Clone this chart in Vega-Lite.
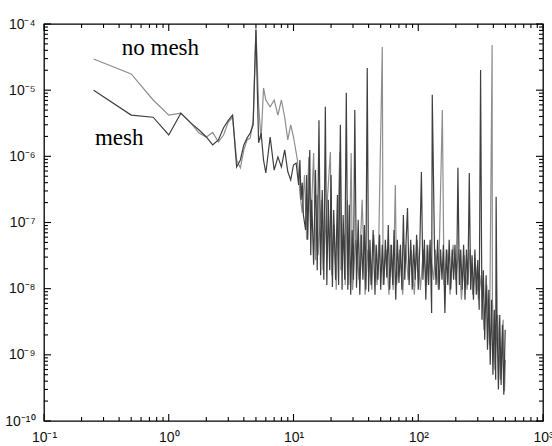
{
  "$schema": "https://vega.github.io/schema/vega-lite/v6.json",
  "width": 499,
  "height": 397,
  "autosize": {"type": "none"},
  "padding": {"left": 44, "top": 24, "right": 9, "bottom": 25},
  "background": "white",
  "config": {
    "view": {"stroke": "black", "strokeWidth": 1.3},
    "axis": {"domain": false, "grid": false, "ticks": false, "labelFont": "Liberation Sans", "labelFontSize": 14, "labelColor": "#111", "title": null, "labelOverlap": false, "labelFlush": false, "labelBound": false}
  },
  "datasets": {
    "xt": [{"f":0.1},{"f":0.2},{"f":0.3},{"f":0.4},{"f":0.5},{"f":0.6},{"f":0.7},{"f":0.8},{"f":0.9},{"f":1},{"f":2},{"f":3},{"f":4},{"f":5},{"f":6},{"f":7},{"f":8},{"f":9},{"f":10},{"f":20},{"f":30},{"f":40},{"f":50},{"f":60},{"f":70},{"f":80},{"f":90},{"f":100},{"f":200},{"f":300},{"f":400},{"f":500},{"f":600},{"f":700},{"f":800},{"f":900},{"f":1000}],
    "yt": [{"v":1e-10},{"v":2e-10},{"v":3e-10},{"v":4e-10},{"v":5e-10},{"v":6e-10},{"v":7e-10},{"v":8e-10},{"v":9e-10},{"v":1e-9},{"v":2e-9},{"v":3e-9},{"v":4e-9},{"v":5e-9},{"v":6e-9},{"v":7e-9},{"v":8e-9},{"v":9e-9},{"v":1e-8},{"v":2e-8},{"v":3e-8},{"v":4e-8},{"v":5e-8},{"v":6e-8},{"v":7e-8},{"v":8e-8},{"v":9e-8},{"v":1e-7},{"v":2e-7},{"v":3e-7},{"v":4e-7},{"v":5e-7},{"v":6e-7},{"v":7e-7},{"v":8e-7},{"v":9e-7},{"v":1e-6},{"v":2e-6},{"v":3e-6},{"v":4e-6},{"v":5e-6},{"v":6e-6},{"v":7e-6},{"v":8e-6},{"v":9e-6},{"v":1e-5},{"v":2e-5},{"v":3e-5},{"v":4e-5},{"v":5e-5},{"v":6e-5},{"v":7e-5},{"v":8e-5},{"v":9e-5},{"v":1e-4}]
  },
  "resolve": {"axis": {"x": "independent", "y": "independent"}},
  "layer": [
    {
      "data": {"values": [
        {"s":"no mesh","f":0.25,"v":2.96e-5},{"s":"no mesh","f":0.5,"v":1.76e-5},{"s":"no mesh","f":0.75,"v":7.1e-6},{"s":"no mesh","f":1.0,"v":4.2e-6},{"s":"no mesh","f":1.25,"v":4.5e-6},{"s":"no mesh","f":1.5,"v":3.2e-6},{"s":"no mesh","f":1.75,"v":2.25e-6},{"s":"no mesh","f":2.0,"v":1.96e-6},{"s":"no mesh","f":2.25,"v":2.3e-6},{"s":"no mesh","f":2.5,"v":1.65e-6},{"s":"no mesh","f":2.75,"v":2.1e-6},{"s":"no mesh","f":3.0,"v":3.3e-6},{"s":"no mesh","f":3.25,"v":3.9e-6},{"s":"no mesh","f":3.5,"v":8.8e-7},{"s":"no mesh","f":3.75,"v":6.7e-7},{"s":"no mesh","f":4.0,"v":1.25e-6},{"s":"no mesh","f":4.25,"v":1.77e-6},{"s":"no mesh","f":4.5,"v":1.9e-6},{"s":"no mesh","f":4.75,"v":3.5e-6},{"s":"no mesh","f":5.0,"v":8.7e-5},{"s":"no mesh","f":5.25,"v":6.0e-6},{"s":"no mesh","f":5.5,"v":1.77e-6},{"s":"no mesh","f":5.75,"v":1.08e-5},{"s":"no mesh","f":6.0,"v":7.1e-6},{"s":"no mesh","f":6.5,"v":5.6e-6},{"s":"no mesh","f":7.0,"v":7.1e-6},{"s":"no mesh","f":7.5,"v":4.2e-6},{"s":"no mesh","f":8.0,"v":7.1e-6},{"s":"no mesh","f":8.5,"v":3.9e-6},{"s":"no mesh","f":9.0,"v":1.77e-6},{"s":"no mesh","f":9.5,"v":3.0e-6},{"s":"no mesh","f":10.0,"v":1.96e-6},
        {"s":"no mesh","f":10.75,"v":8.8e-7},{"s":"no mesh","f":11.25,"v":2.8e-7},{"s":"no mesh","f":11.75,"v":1.4e-7},{"s":"no mesh","f":12.25,"v":5.2e-7},{"s":"no mesh","f":12.75,"v":5.5e-8},{"s":"no mesh","f":13.25,"v":9.8e-7},{"s":"no mesh","f":13.75,"v":7.7e-8},{"s":"no mesh","f":14.5,"v":1.12e-6},{"s":"no mesh","f":15.0,"v":2.7e-8},{"s":"no mesh","f":15.5,"v":2.6e-7},{"s":"no mesh","f":15.75,"v":3.2e-8},{"s":"no mesh","f":16.75,"v":2.2e-7},{"s":"no mesh","f":17.25,"v":1.9e-8},{"s":"no mesh","f":18.25,"v":1.1e-7},{"s":"no mesh","f":19.75,"v":1.16e-6},{"s":"no mesh","f":20.25,"v":1.6e-8},{"s":"no mesh","f":21.25,"v":9.2e-8},{"s":"no mesh","f":22.0,"v":9.6e-9},{"s":"no mesh","f":23.5,"v":1.16e-6},{"s":"no mesh","f":24.0,"v":1.9e-8},{"s":"no mesh","f":25.5,"v":6.5e-8},{"s":"no mesh","f":26.0,"v":1.14e-8},{"s":"no mesh","f":27.0,"v":2.2e-7},{"s":"no mesh","f":27.75,"v":1.14e-8},{"s":"no mesh","f":29.0,"v":1.12e-6},{"s":"no mesh","f":29.75,"v":9.6e-9},{"s":"no mesh","f":31.5,"v":5.5e-8},{"s":"no mesh","f":33.5,"v":1.36e-8},{"s":"no mesh","f":35.5,"v":2.2e-7},{"s":"no mesh","f":37.5,"v":8.1e-9},{"s":"no mesh","f":39.5,"v":3.9e-8},{"s":"no mesh","f":42.5,"v":9.6e-9},{"s":"no mesh","f":44.0,"v":6.5e-8},{"s":"no mesh","f":46.75,"v":1.14e-8},{"s":"no mesh","f":48.25,"v":5.5e-8},{"s":"no mesh","f":51.5,"v":4.5e-5},{"s":"no mesh","f":52.25,"v":1.14e-8},{"s":"no mesh","f":55.25,"v":3.9e-8},{"s":"no mesh","f":58.25,"v":8.1e-9},{"s":"no mesh","f":60.0,"v":4.6e-8},{"s":"no mesh","f":63.0,"v":9.6e-9},{"s":"no mesh","f":65.5,"v":3.7e-7},{"s":"no mesh","f":67.0,"v":1.14e-8},{"s":"no mesh","f":71.0,"v":3.9e-8},{"s":"no mesh","f":75.0,"v":8.1e-9},{"s":"no mesh","f":79.0,"v":4.6e-8},{"s":"no mesh","f":83.0,"v":1.36e-8},{"s":"no mesh","f":88.0,"v":3.9e-8},{"s":"no mesh","f":93.0,"v":8.1e-9},{"s":"no mesh","f":98.0,"v":5.5e-8},{"s":"no mesh","f":104.0,"v":9.6e-9},{"s":"no mesh","f":110.0,"v":3.9e-8},{"s":"no mesh","f":116.5,"v":1.14e-8},{"s":"no mesh","f":122.5,"v":4.6e-8},{"s":"no mesh","f":133.0,"v":1.36e-8},{"s":"no mesh","f":137.0,"v":3.9e-8},{"s":"no mesh","f":145.0,"v":9.6e-9},{"s":"no mesh","f":156.0,"v":5.0e-6},{"s":"no mesh","f":161.0,"v":1.14e-8},{"s":"no mesh","f":170.0,"v":3.9e-8},{"s":"no mesh","f":180.0,"v":8.1e-9},{"s":"no mesh","f":190.0,"v":4.6e-8},{"s":"no mesh","f":200.0,"v":1.36e-8},{"s":"no mesh","f":211.0,"v":3.9e-8},{"s":"no mesh","f":222.0,"v":6.8e-9},{"s":"no mesh","f":234.0,"v":3.2e-8},{"s":"no mesh","f":246.5,"v":9.6e-9},{"s":"no mesh","f":260.0,"v":3.9e-8},{"s":"no mesh","f":273.5,"v":8.1e-9},{"s":"no mesh","f":288.0,"v":2.3e-8},{"s":"no mesh","f":304.0,"v":6.8e-9},{"s":"no mesh","f":320.0,"v":1.6e-8},{"s":"no mesh","f":336.0,"v":2.4e-9},{"s":"no mesh","f":354.0,"v":1.14e-8},{"s":"no mesh","f":372.5,"v":1.42e-9},{"s":"no mesh","f":391.0,"v":4.8e-5},{"s":"no mesh","f":393.0,"v":6.8e-9},{"s":"no mesh","f":412.0,"v":5.9e-10},{"s":"no mesh","f":433.0,"v":4.0e-9},{"s":"no mesh","f":455.0,"v":4.2e-10},{"s":"no mesh","f":479.0,"v":3.4e-9},{"s":"no mesh","f":491.0,"v":2.8e-10},{"s":"no mesh","f":500.0,"v":8.4e-10},
        {"s":"mesh","f":0.25,"v":1.0e-5},{"s":"mesh","f":0.5,"v":4.2e-6},{"s":"mesh","f":0.75,"v":3.9e-6},{"s":"mesh","f":1.0,"v":2.1e-6},{"s":"mesh","f":1.25,"v":4.5e-6},{"s":"mesh","f":1.5,"v":3.2e-6},{"s":"mesh","f":1.75,"v":2.5e-6},{"s":"mesh","f":2.0,"v":1.96e-6},{"s":"mesh","f":2.25,"v":1.49e-6},{"s":"mesh","f":2.5,"v":1.77e-6},{"s":"mesh","f":2.75,"v":2.7e-6},{"s":"mesh","f":3.0,"v":3.5e-6},{"s":"mesh","f":3.25,"v":4.2e-6},{"s":"mesh","f":3.5,"v":6.9e-7},{"s":"mesh","f":3.75,"v":8.8e-7},{"s":"mesh","f":4.0,"v":1.49e-6},{"s":"mesh","f":4.25,"v":1.9e-6},{"s":"mesh","f":4.5,"v":2.25e-6},{"s":"mesh","f":4.75,"v":3.0e-6},{"s":"mesh","f":5.0,"v":8.1e-5},{"s":"mesh","f":5.25,"v":1.6e-6},{"s":"mesh","f":5.5,"v":2.25e-6},{"s":"mesh","f":5.75,"v":8.8e-7},{"s":"mesh","f":6.0,"v":5.6e-7},{"s":"mesh","f":6.5,"v":1.96e-6},{"s":"mesh","f":7.0,"v":6.2e-7},{"s":"mesh","f":7.5,"v":9.8e-7},{"s":"mesh","f":8.0,"v":6.9e-7},{"s":"mesh","f":8.5,"v":1.25e-6},{"s":"mesh","f":9.0,"v":5.9e-7},{"s":"mesh","f":9.5,"v":4.4e-7},{"s":"mesh","f":10.0,"v":7.4e-7},{"s":"mesh","f":10.5,"v":7.9e-7},
        {"s":"mesh","f":11.0,"v":3.7e-7},{"s":"mesh","f":11.25,"v":8.8e-7},{"s":"mesh","f":11.5,"v":2.2e-7},{"s":"mesh","f":11.75,"v":4.0e-7},{"s":"mesh","f":12.0,"v":1.3e-7},{"s":"mesh","f":12.5,"v":7.7e-8},{"s":"mesh","f":12.75,"v":5.2e-7},{"s":"mesh","f":13.0,"v":5.5e-8},{"s":"mesh","f":13.5,"v":1.25e-6},{"s":"mesh","f":13.75,"v":3.2e-8},{"s":"mesh","f":14.0,"v":2.2e-7},{"s":"mesh","f":14.5,"v":2.3e-8},{"s":"mesh","f":15.0,"v":6.2e-7},{"s":"mesh","f":15.5,"v":1.9e-8},{"s":"mesh","f":16.0,"v":3.5e-6},{"s":"mesh","f":16.5,"v":1.6e-8},{"s":"mesh","f":17.0,"v":3.1e-7},{"s":"mesh","f":17.5,"v":1.36e-8},{"s":"mesh","f":18.0,"v":5.6e-6},{"s":"mesh","f":18.5,"v":1.14e-8},{"s":"mesh","f":19.0,"v":2.2e-7},{"s":"mesh","f":19.5,"v":1.9e-8},{"s":"mesh","f":20.0,"v":5.2e-7},{"s":"mesh","f":20.5,"v":1.06e-8},{"s":"mesh","f":21.0,"v":1.55e-7},{"s":"mesh","f":21.75,"v":1.36e-8},{"s":"mesh","f":22.5,"v":2.6e-7},{"s":"mesh","f":23.0,"v":1.14e-8},{"s":"mesh","f":23.75,"v":3.0e-6},{"s":"mesh","f":24.5,"v":9.6e-9},{"s":"mesh","f":25.0,"v":1.3e-7},{"s":"mesh","f":25.75,"v":1.36e-8},{"s":"mesh","f":26.5,"v":9.1e-6},{"s":"mesh","f":27.25,"v":9.6e-9},{"s":"mesh","f":28.0,"v":1.85e-7},{"s":"mesh","f":28.75,"v":8.1e-9},{"s":"mesh","f":29.5,"v":7.7e-8},{"s":"mesh","f":30.25,"v":1.36e-8},{"s":"mesh","f":31.0,"v":5.0e-6},{"s":"mesh","f":32.0,"v":1.03e-8},{"s":"mesh","f":33.0,"v":1.1e-7},{"s":"mesh","f":34.0,"v":8.1e-9},{"s":"mesh","f":35.0,"v":6.5e-8},{"s":"mesh","f":36.0,"v":1.36e-8},{"s":"mesh","f":37.0,"v":9.2e-8},{"s":"mesh","f":38.0,"v":9.6e-9},{"s":"mesh","f":39.0,"v":2.16e-5},{"s":"mesh","f":40.0,"v":9.0e-9},{"s":"mesh","f":41.0,"v":5.5e-8},{"s":"mesh","f":42.0,"v":1.14e-8},{"s":"mesh","f":43.5,"v":7.7e-8},{"s":"mesh","f":45.0,"v":8.1e-9},{"s":"mesh","f":46.0,"v":4.6e-8},{"s":"mesh","f":47.5,"v":1.36e-8},{"s":"mesh","f":49.0,"v":6.5e-8},{"s":"mesh","f":50.0,"v":9.6e-9},{"s":"mesh","f":51.5,"v":4.6e-8},{"s":"mesh","f":53.0,"v":1.14e-8},{"s":"mesh","f":54.5,"v":5.5e-8},{"s":"mesh","f":56.0,"v":1.46e-8},{"s":"mesh","f":57.5,"v":9.2e-8},{"s":"mesh","f":59.0,"v":9.6e-9},{"s":"mesh","f":61.0,"v":4.6e-8},{"s":"mesh","f":62.5,"v":1.14e-8},{"s":"mesh","f":64.0,"v":7.7e-8},{"s":"mesh","f":66.0,"v":6.8e-9},{"s":"mesh","f":68.0,"v":5.5e-8},{"s":"mesh","f":70.0,"v":1.22e-8},{"s":"mesh","f":72.0,"v":4.6e-8},{"s":"mesh","f":74.0,"v":9.6e-9},{"s":"mesh","f":76.0,"v":1.3e-7},{"s":"mesh","f":78.0,"v":1.36e-8},{"s":"mesh","f":80.0,"v":5.5e-8},{"s":"mesh","f":82.0,"v":1.66e-7},{"s":"mesh","f":84.5,"v":1.14e-8},{"s":"mesh","f":87.0,"v":5.5e-8},{"s":"mesh","f":89.5,"v":9.6e-9},{"s":"mesh","f":92.0,"v":4.6e-8},{"s":"mesh","f":94.5,"v":1.36e-8},{"s":"mesh","f":97.0,"v":6.5e-8},{"s":"mesh","f":100.0,"v":9.6e-9},{"s":"mesh","f":103.0,"v":4.6e-8},{"s":"mesh","f":106.0,"v":5.8e-7},{"s":"mesh","f":109.0,"v":1.36e-8},{"s":"mesh","f":112.0,"v":5.5e-8},{"s":"mesh","f":115.0,"v":6.8e-9},{"s":"mesh","f":118.0,"v":4.6e-8},{"s":"mesh","f":121.0,"v":1.14e-8},{"s":"mesh","f":124.5,"v":5.5e-8},{"s":"mesh","f":128.0,"v":4.3e-9},{"s":"mesh","f":129.5,"v":8.5e-6},{"s":"mesh","f":135.0,"v":3.9e-8},{"s":"mesh","f":139.0,"v":1.14e-8},{"s":"mesh","f":143.0,"v":5.5e-8},{"s":"mesh","f":147.0,"v":9.6e-9},{"s":"mesh","f":151.0,"v":3.9e-8},{"s":"mesh","f":155.0,"v":1.36e-8},{"s":"mesh","f":159.0,"v":4.6e-8},{"s":"mesh","f":163.5,"v":4.3e-9},{"s":"mesh","f":168.0,"v":3.9e-8},{"s":"mesh","f":172.5,"v":1.14e-8},{"s":"mesh","f":177.0,"v":5.5e-8},{"s":"mesh","f":182.0,"v":9.6e-9},{"s":"mesh","f":187.0,"v":3.9e-8},{"s":"mesh","f":192.0,"v":1.36e-8},{"s":"mesh","f":197.0,"v":4.6e-8},{"s":"mesh","f":202.5,"v":8.1e-9},{"s":"mesh","f":208.0,"v":6.7e-7},{"s":"mesh","f":213.5,"v":1.14e-8},{"s":"mesh","f":219.0,"v":3.9e-8},{"s":"mesh","f":225.0,"v":9.6e-9},{"s":"mesh","f":231.0,"v":4.6e-8},{"s":"mesh","f":237.0,"v":6.8e-9},{"s":"mesh","f":243.5,"v":3.9e-8},{"s":"mesh","f":250.0,"v":1.14e-8},{"s":"mesh","f":256.5,"v":5.6e-7},{"s":"mesh","f":263.0,"v":9.6e-9},{"s":"mesh","f":270.0,"v":3.2e-8},{"s":"mesh","f":277.0,"v":6.8e-9},{"s":"mesh","f":284.5,"v":3.9e-8},{"s":"mesh","f":292.0,"v":8.1e-9},{"s":"mesh","f":300.0,"v":2.7e-8},{"s":"mesh","f":308.0,"v":4.8e-9},{"s":"mesh","f":316.0,"v":2.02e-5},{"s":"mesh","f":324.0,"v":3.4e-9},{"s":"mesh","f":332.5,"v":1.9e-8},{"s":"mesh","f":341.0,"v":1.69e-9},{"s":"mesh","f":350.0,"v":1.6e-8},{"s":"mesh","f":359.0,"v":1.19e-9},{"s":"mesh","f":368.0,"v":9.6e-9},{"s":"mesh","f":377.5,"v":7.1e-10},{"s":"mesh","f":387.0,"v":6.8e-9},{"s":"mesh","f":397.0,"v":5.0e-10},{"s":"mesh","f":407.0,"v":4.8e-9},{"s":"mesh","f":417.5,"v":4.2e-10},{"s":"mesh","f":421.0,"v":2.44e-7},{"s":"mesh","f":428.0,"v":3.4e-9},{"s":"mesh","f":439.0,"v":3.0e-10},{"s":"mesh","f":450.0,"v":4.0e-9},{"s":"mesh","f":461.5,"v":3.5e-10},{"s":"mesh","f":473.0,"v":2.84e-9},{"s":"mesh","f":485.0,"v":2.5e-10},{"s":"mesh","f":497.5,"v":2.4e-9}
      ]},
      "mark": {"type": "line", "strokeWidth": 1.2, "clip": true},
      "encoding": {
        "x": {"field": "f", "type": "quantitative", "scale": {"type": "log", "domain": [0.1, 1000], "nice": false},
          "axis": {"orient": "bottom", "values": [0.1, 1, 10, 100, 1000], "ticks": false,
            "labelExpr": "datum.value==0.1?'10⁻¹':datum.value==1?'10⁰':datum.value==10?'10¹':datum.value==100?'10²':'10³'",
            "labelPadding": 9}},
        "y": {"field": "v", "type": "quantitative", "scale": {"type": "log", "domain": [1e-10, 1e-4], "nice": false},
          "axis": {"orient": "left", "values": [1e-10, 1e-9, 1e-8, 1e-7, 1e-6, 1e-5, 1e-4], "ticks": false,
            "labelExpr": "datum.value==1e-4?'10⁻⁴':datum.value==1e-5?'10⁻⁵':datum.value==1e-6?'10⁻⁶':datum.value==1e-7?'10⁻⁷':datum.value==1e-8?'10⁻⁸':datum.value==1e-9?'10⁻⁹':'10⁻¹⁰'",
            "labelPadding": 9}},
        "color": {"field": "s", "type": "nominal", "scale": {"domain": ["no mesh", "mesh"], "range": ["#8e8e8e", "#3f3f3f"]}, "legend": null}
      }
    },
    {
      "data": {"values": [
        {"t": "no mesh", "f": 0.42, "v": 3.4e-5},
        {"t": "mesh", "f": 0.256, "v": 1.49e-6}
      ]},
      "mark": {"type": "text", "align": "left", "baseline": "alphabetic", "font": "Liberation Serif", "fontSize": 23, "color": "black"},
      "encoding": {
        "text": {"field": "t"},
        "x": {"field": "f", "type": "quantitative", "axis": null},
        "y": {"field": "v", "type": "quantitative", "axis": null}
      }
    },
    {
      "data": {"name": "xt"},
      "transform": [{"filter": "datum.f==0.1||datum.f==1||datum.f==10||datum.f==100||datum.f==1000"}],
      "mark": {"type": "rule", "color": "black", "strokeWidth": 1.1},
      "encoding": {"x": {"field": "f", "type": "quantitative", "axis": null}, "y": {"datum": 1e-10, "type": "quantitative", "axis": null}, "y2": {"datum": 1.276e-10}}
    },
    {
      "data": {"name": "xt"},
      "transform": [{"filter": "!(datum.f==0.1||datum.f==1||datum.f==10||datum.f==100||datum.f==1000)"}],
      "mark": {"type": "rule", "color": "black", "strokeWidth": 1.1},
      "encoding": {"x": {"field": "f", "type": "quantitative", "axis": null}, "y": {"datum": 1e-10, "type": "quantitative", "axis": null}, "y2": {"datum": 1.149e-10}}
    },
    {
      "data": {"name": "xt"},
      "transform": [{"filter": "datum.f==0.1||datum.f==1||datum.f==10||datum.f==100||datum.f==1000"}],
      "mark": {"type": "rule", "color": "black", "strokeWidth": 1.1},
      "encoding": {"x": {"field": "f", "type": "quantitative", "axis": null}, "y": {"datum": 1e-4, "type": "quantitative", "axis": null}, "y2": {"datum": 7.84e-5}}
    },
    {
      "data": {"name": "xt"},
      "transform": [{"filter": "!(datum.f==0.1||datum.f==1||datum.f==10||datum.f==100||datum.f==1000)"}],
      "mark": {"type": "rule", "color": "black", "strokeWidth": 1.1},
      "encoding": {"x": {"field": "f", "type": "quantitative", "axis": null}, "y": {"datum": 1e-4, "type": "quantitative", "axis": null}, "y2": {"datum": 8.7e-5}}
    },
    {
      "data": {"name": "yt"},
      "transform": [{"filter": "datum.v==1e-10||datum.v==1e-9||datum.v==1e-8||datum.v==1e-7||datum.v==1e-6||datum.v==1e-5||datum.v==1e-4"}],
      "mark": {"type": "rule", "color": "black", "strokeWidth": 1.1},
      "encoding": {"y": {"field": "v", "type": "quantitative", "axis": null}, "x": {"datum": 0.1, "type": "quantitative", "axis": null}, "x2": {"datum": 0.1138}}
    },
    {
      "data": {"name": "yt"},
      "transform": [{"filter": "!(datum.v==1e-10||datum.v==1e-9||datum.v==1e-8||datum.v==1e-7||datum.v==1e-6||datum.v==1e-5||datum.v==1e-4)"}],
      "mark": {"type": "rule", "color": "black", "strokeWidth": 1.1},
      "encoding": {"y": {"field": "v", "type": "quantitative", "axis": null}, "x": {"datum": 0.1, "type": "quantitative", "axis": null}, "x2": {"datum": 0.1076}}
    },
    {
      "data": {"name": "yt"},
      "transform": [{"filter": "datum.v==1e-10||datum.v==1e-9||datum.v==1e-8||datum.v==1e-7||datum.v==1e-6||datum.v==1e-5||datum.v==1e-4"}],
      "mark": {"type": "rule", "color": "black", "strokeWidth": 1.1},
      "encoding": {"y": {"field": "v", "type": "quantitative", "axis": null}, "x": {"datum": 1000, "type": "quantitative", "axis": null}, "x2": {"datum": 878.7}}
    },
    {
      "data": {"name": "yt"},
      "transform": [{"filter": "!(datum.v==1e-10||datum.v==1e-9||datum.v==1e-8||datum.v==1e-7||datum.v==1e-6||datum.v==1e-5||datum.v==1e-4)"}],
      "mark": {"type": "rule", "color": "black", "strokeWidth": 1.1},
      "encoding": {"y": {"field": "v", "type": "quantitative", "axis": null}, "x": {"datum": 1000, "type": "quantitative", "axis": null}, "x2": {"datum": 929}}
    }
  ]
}
